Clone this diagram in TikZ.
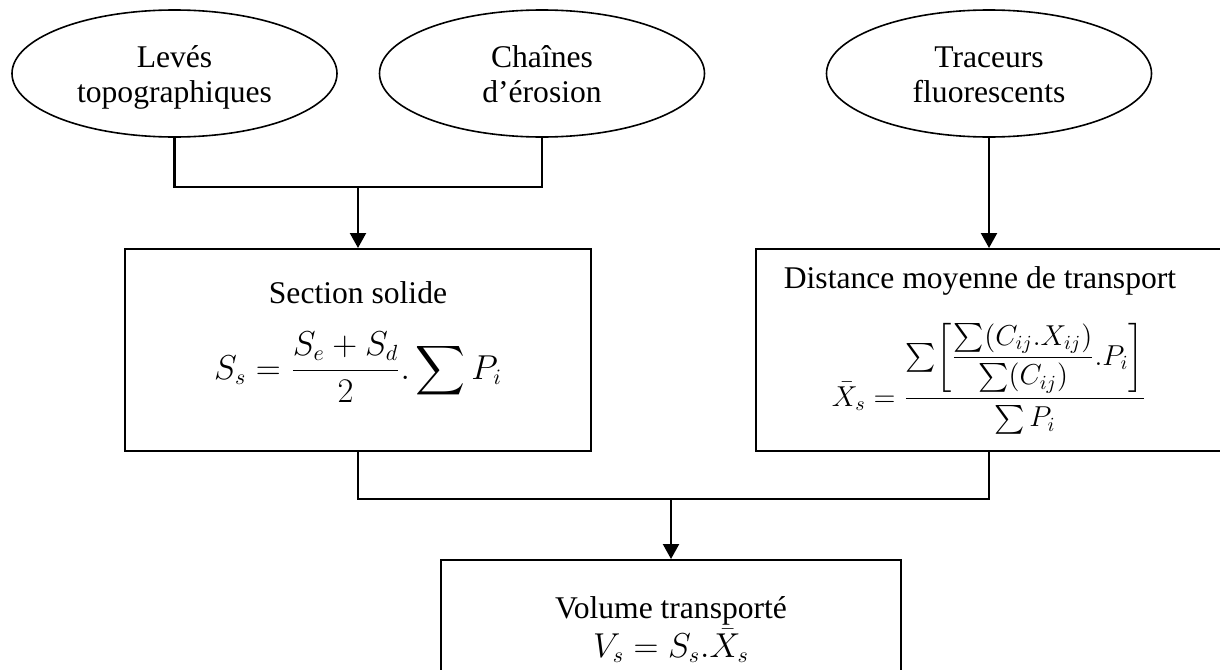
\documentclass[tikz,border=0pt]{standalone}
\usepackage{amsmath}
\usepackage{fontspec}
\setmainfont{Liberation Serif}
\usetikzlibrary{shapes.geometric,arrows.meta}
\newcommand{\topstrut}{\rule{0pt}{16.3pt}}
\newcommand{\botstrut}{\rule[-5pt]{0pt}{5pt}}
\newcommand{\tsum}{\mathop{\textstyle\sum}}
\tikzset{
  oval/.style={ellipse, draw, line width=0.8pt, inner sep=0pt, minimum width=162.5pt, minimum height=63.5pt, align=center, font=\fontsize{15.8}{17.8}\selectfont},
  frame/.style={rectangle, draw, line width=1pt, inner sep=0pt},
  txt/.style={inner sep=0pt, align=center, font=\fontsize{15.8}{17.5}\selectfont},
  mth/.style={inner sep=0pt, anchor=base, font=\fontsize{16.3}{18}\selectfont},
  link/.style={line width=1.1pt},
  arr/.style={line width=1.1pt, -{Triangle[width=8pt,length=7.5pt]}}
}
\begin{document}
\begin{tikzpicture}[x=0.5pt,y=-0.5pt]
\useasboundingbox (0,0) rectangle (1220,669);
% ellipses
\node[oval] (e1) at (174.5,73.5) {\topstrut Levés\\topographiques\botstrut};
\node[oval] (e2) at (542,73.5) {\topstrut Chaînes\\d’érosion\botstrut};
\node[oval] (e3) at (989,73.5) {\topstrut Traceurs\\fluorescents\botstrut};
% boxes
\node[frame, minimum width=233pt, minimum height=101pt] (b1) at (358,350) {};
\node[frame, minimum width=232.5pt, minimum height=101pt] (b2) at (988.5,350) {};
\node[frame, minimum width=230pt, minimum height=65pt] (b3) at (671,625) {};
% box texts
\node[txt, anchor=base] (t1) at (358,303) {Section solide};
\node[mth] (f1) at (358,379) {$\displaystyle S_s=\frac{S_e+S_d}{2}.\sum P_i$};
\node[txt, anchor=base] (t2) at (980,288) {Distance moyenne de transport};
\node[mth, font=\fontsize{14.6}{18}\selectfont] (f2) at (989,406) {$\displaystyle \bar{X}_s=\frac{\tsum\!\left[\dfrac{\tsum(C_{ij}.X_{ij})\rule[-4pt]{0pt}{13pt}}{\tsum(C_{ij})\rule[-5pt]{0pt}{15pt}}.P_i\right]}{\tsum P_i\rule{0pt}{12pt}}$};
\node[txt, anchor=base] (t3) at (671,618) {Volume transporté};
\node[mth] (f3) at (671,657) {$V_s=S_s.\bar{X}_s$};
% connectors
\coordinate (j1) at (358,187);
\coordinate (j2) at (671,499);
\draw[link] (e1.south) |- (j1) -| (e2.south);
\draw[arr] (j1) -- (b1.north);
\draw[arr] (e3.south) -- (e3.south |- b2.north);
\draw[link] (b1.south) |- (j2) -| (e3.south |- b2.south);
\draw[arr] (j2) -- (b3.north);
\end{tikzpicture}
\end{document}
